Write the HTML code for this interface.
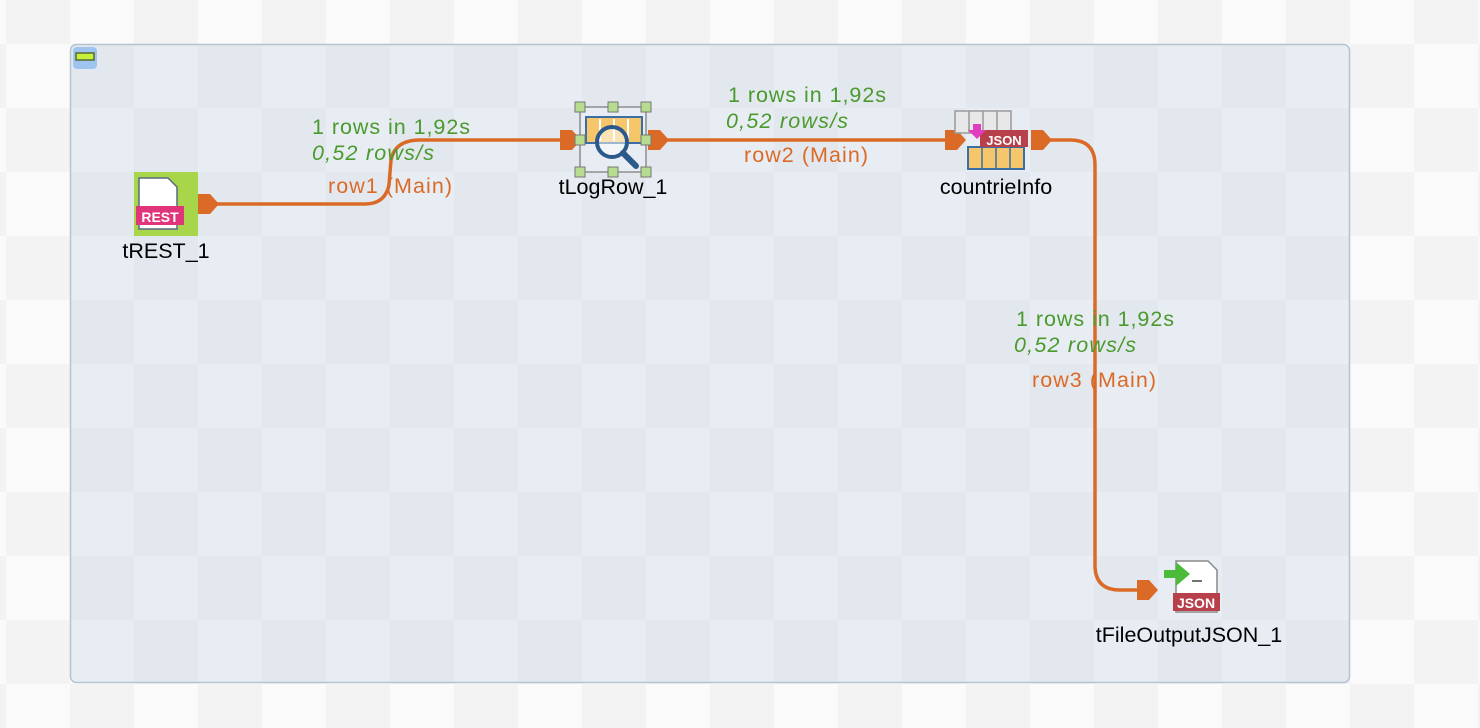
<!DOCTYPE html>
<html><head><meta charset="utf-8"><style>
html,body{margin:0;padding:0;width:1480px;height:728px;overflow:hidden;background:#fafafa}
svg{display:block}
text{font-family:"Liberation Sans",Arial,sans-serif;font-size:21.5px}
</style></head><body>
<svg width="1480" height="728" viewBox="0 0 1480 728" xmlns="http://www.w3.org/2000/svg">
<defs>
<pattern id="chk" patternUnits="userSpaceOnUse" x="6" y="-20" width="128" height="128">
<rect width="128" height="128" fill="#fafafa"/>
<rect width="64" height="64" fill="#f3f3f3"/>
<rect x="64" y="64" width="64" height="64" fill="#f3f3f3"/>
</pattern>
<g id="port"><polygon points="0,-10 12,-10 21,0 12,10 0,10" fill="#dc6a27"/></g>
</defs>
<rect width="1480" height="728" fill="url(#chk)"/>
<rect x="70.5" y="44.5" width="1279" height="638" rx="6" fill="rgba(190,208,228,0.3)" stroke="#b5c3cf" stroke-width="1.5"/>
<rect x="73" y="47" width="24" height="22" rx="4" fill="#9ec4ef"/>
<rect x="76" y="53" width="18" height="7" fill="#c6f03a" stroke="#556b2f" stroke-width="1.5"/>

<g fill="none" stroke="#dc6a27" stroke-width="3.5">
<path d="M215,204 H365 Q385,204 389,185 L391,160 Q395,140 420,140 H565"/>
<path d="M665,140 H950"/>
<path d="M1045,140 H1070 Q1095,140 1095,165 V565 Q1095,590 1120,590 H1145"/>
</g>
<use href="#port" x="198" y="204"/>
<use href="#port" x="560" y="140"/>
<use href="#port" x="648" y="140"/>
<use href="#port" x="945" y="140"/>
<use href="#port" x="1031" y="140"/>
<use href="#port" x="1137" y="590"/>

<rect x="134" y="172" width="64" height="64" fill="#a8d64a"/>
<path d="M139,178 H168 L177,187 V229 H139 Z" fill="#fff" stroke="#5a6a80" stroke-width="1.5"/>
<rect x="136" y="206" width="48" height="19" fill="#e0357a"/>
<text x="160" y="222" font-weight="bold" fill="#fff" text-anchor="middle" style="font-size:14px">REST</text>

<rect x="586" y="117" width="56" height="26" fill="#f5c76a" stroke="#3a6ea5" stroke-width="2"/>
<path d="M600,119V141M614,119V141M628,119V141" stroke="#fff" stroke-width="2"/>
<circle cx="612" cy="142" r="15" fill="rgba(255,255,255,0.5)" stroke="#2b5a8a" stroke-width="4"/>
<line x1="623" y1="153" x2="636" y2="166" stroke="#2b5a8a" stroke-width="6" stroke-linecap="round"/>
<rect x="580" y="107" width="66" height="65" fill="none" stroke="#777" stroke-width="1.2"/>
<g fill="#b5dc8f" stroke="#777" stroke-width="1">
<rect x="575" y="102" width="10" height="10"/><rect x="608" y="102" width="10" height="10"/><rect x="641" y="102" width="10" height="10"/>
<rect x="575" y="135" width="10" height="10"/><rect x="641" y="135" width="10" height="10"/>
<rect x="575" y="167" width="10" height="10"/><rect x="608" y="167" width="10" height="10"/><rect x="641" y="167" width="10" height="10"/>
</g>

<rect x="955" y="111" width="56" height="22" fill="#e8e8e8" stroke="#999" stroke-width="1.5"/>
<path d="M969,111V133M983,111V133M997,111V133" stroke="#999" stroke-width="1.5"/>
<rect x="968" y="147" width="56" height="22" fill="#f5c76a" stroke="#3a6ea5" stroke-width="2"/>
<path d="M982,147V169M996,147V169M1010,147V169" stroke="#3a6ea5" stroke-width="1.5"/>
<rect x="980" y="130" width="48" height="17" fill="#b8404a"/>
<text x="1004" y="145" fill="#fff" font-weight="bold" text-anchor="middle" style="font-size:13px">JSON</text>
<path d="M973,124 h8 v6 h5 l-9,9 l-9,-9 h5z" fill="#e23dc0"/>

<path d="M1176,561 H1208 L1217,570 V612 H1176 Z" fill="#fff" stroke="#8a8a8a" stroke-width="1.5"/>
<rect x="1173" y="593" width="47" height="18" fill="#b8404a"/>
<text x="1196" y="608" fill="#fff" font-weight="bold" text-anchor="middle" style="font-size:14px">JSON</text>
<path d="M1164,570 h12 v-8 l14,12 l-14,12 v-8 h-12z" fill="#4cbb3a"/>
<line x1="1192" y1="581" x2="1202" y2="581" stroke="#444" stroke-width="1.5"/>

<g fill="#000">
<text x="166" y="258" text-anchor="middle">tREST_1</text>
<text x="613" y="194" text-anchor="middle">tLogRow_1</text>
<text x="996" y="194" text-anchor="middle">countrieInfo</text>
<text x="1189" y="642" text-anchor="middle">tFileOutputJSON_1</text>
</g>
<g fill="#4a9a2e">
<text x="312" y="134" textLength="158">1 rows in 1,92s</text>
<text x="312" y="160" font-style="italic" textLength="122">0,52 rows/s</text>
<text x="728" y="102" textLength="158">1 rows in 1,92s</text>
<text x="726" y="128" font-style="italic" textLength="122">0,52 rows/s</text>
<text x="1016" y="326" textLength="158">1 rows in 1,92s</text>
<text x="1014" y="352" font-style="italic" textLength="122">0,52 rows/s</text>
</g>
<g fill="#dc6a27">
<text x="328" y="193" textLength="124">row1 (Main)</text>
<text x="744" y="162" textLength="124">row2 (Main)</text>
<text x="1032" y="387" textLength="124">row3 (Main)</text>
</g>
</svg>
</body></html>
